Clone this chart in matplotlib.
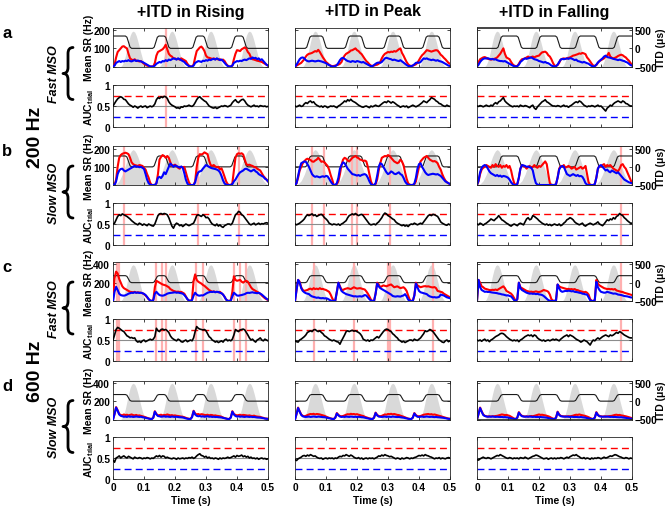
import numpy as np
import matplotlib
matplotlib.use("Agg")
import matplotlib.pyplot as plt
from matplotlib.path import Path
from matplotlib.patches import PathPatch

# ---------------------------------------------------------------- data
# time step of every trace is 5 ms, 101 samples from 0 to 0.5 s
columns = ["+ITD in Rising", "+ITD in Peak", "+ITD in Falling"]
row_letters = ["a", "b", "c", "d"]
row_types = ["Fast MSO", "Slow MSO", "Fast MSO", "Slow MSO"]
freq_labels = ["200 Hz", "600 Hz"]
sr_ticks_200 = [0, 100, 200]
sr_ticks_600 = [0, 200, 400]
time_ticks = [0, 0.1, 0.2, 0.3, 0.4, 0.5]
itd_ticks = [-500, 0, 500]
itd_amp = [340, 300, 190, 180]      # us, per row
env_peak = [195, 195, 395, 395]     # Hz, height of grey envelope, per row
auc_red_ref = 0.75
auc_blue_ref = 0.25

# one modulation cycle (0.125 s) of the grey envelope
env_t_narrow = [0.025, 0.03, 0.035, 0.04, 0.045, 0.05, 0.055, 0.06, 0.065, 0.07,
                0.075, 0.08, 0.085, 0.09, 0.095, 0.1, 0.105, 0.11]
env_v_narrow = [0, 0.05, 0.15, 0.3, 0.5, 0.7, 0.87, 0.97, 1.0, 0.97,
                0.87, 0.72, 0.55, 0.38, 0.22, 0.1, 0.03, 0]
env_t_broad = [0, 0.01, 0.02, 0.03, 0.04, 0.05, 0.055, 0.06, 0.065, 0.07, 0.075,
               0.08, 0.09, 0.1, 0.11, 0.12, 0.125]
env_v_broad = [0, 0.03, 0.12, 0.3, 0.55, 0.8, 0.9, 0.97, 1.0, 0.97, 0.9,
               0.8, 0.55, 0.3, 0.12, 0.03, 0]

# ITD ramp shape (20 ms) and ramp start times per column
ramp_dt = [0, 0.005, 0.01, 0.015, 0.02]
ramp_v = [0, 0.1, 0.5, 0.9, 1.0]
itd_rise_ups = [0.128, 0.253, 0.378]
itd_rise_downs = [0.04, 0.165, 0.29, 0.415]
itd_peak_ups = [0.033, 0.158, 0.283, 0.408]
itd_peak_downs = [0.085, 0.21, 0.335, 0.46]
itd_fall_ups = [0.063, 0.188, 0.313, 0.438]
itd_fall_downs = [0.128, 0.253, 0.378]

# ---- row a: 200 Hz, fast MSO
a_rise_red = [0, 10, 50, 80, 90, 100, 110, 112, 105, 100, 70, 45, 38, 35, 40, 32, 30, 28, 30, 22, 15, 10, 5, 2, 0,
              0, 0, 20, 60, 80, 85, 90, 95, 105, 120, 95, 70, 60, 55, 45, 45, 40, 42, 38, 45, 40, 35, 30, 15, 5,
              0, 0, 10, 50, 85, 95, 105, 110, 100, 85, 60, 50, 48, 45, 42, 45, 40, 42, 38, 40, 35, 38, 30, 15, 5,
              0, 0, 5, 40, 70, 90, 88, 85, 95, 100, 105, 98, 80, 70, 50, 40, 38, 35, 32, 30, 28, 25, 20, 15, 10, 5]
a_rise_blue = [0, 5, 20, 25, 30, 25, 30, 28, 32, 30, 35, 30, 28, 32, 35, 30, 33, 30, 28, 25, 20, 15, 10, 5, 0,
               0, 0, 5, 15, 20, 25, 22, 30, 28, 35, 30, 38, 35, 40, 45, 42, 38, 45, 40, 35, 30, 25, 15, 8, 2,
               0, 0, 5, 20, 25, 30, 28, 25, 32, 30, 35, 32, 38, 35, 40, 42, 38, 45, 40, 35, 38, 30, 20, 10, 3,
               0, 0, 5, 20, 25, 30, 28, 32, 30, 35, 38, 35, 40, 45, 42, 50, 45, 48, 40, 45, 35, 40, 30, 20, 10, 5]
a_rise_auc = [.50, .56, .62, .67, .70, .72, .70, .66, .65, .60, .55, .52, .50, .47, .50, .48, .45, .48, .50, .47, .49, .50, .46, .48, .50,
              .48, .50, .55, .65, .70, .68, .72, .70, .73, .72, .68, .60, .55, .52, .50, .48, .45, .46, .44, .48, .47, .50, .49, .50, .52,
              .50, .49, .52, .58, .65, .70, .72, .68, .65, .62, .60, .55, .50, .48, .46, .45, .47, .44, .46, .48, .50, .49, .51, .50, .48,
              .50, .52, .58, .62, .65, .60, .58, .62, .65, .66, .62, .56, .52, .50, .48, .50, .52, .49, .50, .48, .51, .50, .49, .50, .48, .49]
a_rise_sig = [0.17]

a_peak_red = [0, 5, 10, 15, 20, 30, 40, 55, 65, 70, 72, 75, 80, 85, 82, 92, 80, 65, 50, 38, 25, 18, 10, 5, 2,
              3, 5, 8, 10, 15, 25, 45, 60, 70, 75, 80, 88, 90, 95, 100, 90, 85, 75, 68, 55, 42, 30, 22, 12, 5,
              3, 5, 8, 10, 15, 25, 45, 60, 70, 75, 80, 78, 82, 80, 85, 82, 88, 95, 100, 75, 60, 42, 25, 12, 5,
              3, 5, 8, 12, 20, 35, 50, 62, 70, 80, 90, 88, 85, 82, 85, 88, 90, 88, 78, 65, 58, 48, 40, 30, 20, 15]
a_peak_blue = [0, 10, 25, 40, 48, 50, 45, 35, 30, 28, 30, 32, 30, 28, 30, 32, 30, 28, 25, 22, 18, 12, 8, 3, 0,
               0, 2, 8, 20, 35, 45, 48, 42, 35, 30, 28, 25, 30, 28, 25, 30, 28, 25, 22, 25, 20, 15, 10, 5, 2,
               2, 8, 15, 20, 22, 20, 25, 35, 45, 48, 45, 42, 40, 35, 38, 35, 32, 30, 35, 28, 22, 15, 8, 3, 2,
               2, 5, 12, 20, 22, 20, 25, 35, 45, 42, 45, 40, 38, 35, 38, 35, 32, 35, 30, 28, 25, 20, 15, 10, 5, 3]
a_peak_auc = [.50, .48, .50, .52, .49, .50, .55, .58, .56, .60, .62, .58, .60, .55, .52, .50, .48, .50, .47, .50, .49, .46, .48, .50, .49,
              .50, .48, .46, .50, .52, .55, .58, .62, .60, .65, .62, .66, .62, .60, .58, .55, .52, .50, .48, .47, .49, .50, .48, .46, .50,
              .48, .50, .52, .50, .49, .52, .55, .58, .60, .58, .62, .60, .57, .60, .58, .55, .52, .50, .47, .49, .50, .48, .50, .46, .48,
              .50, .52, .50, .48, .50, .52, .55, .58, .62, .60, .58, .62, .65, .70, .68, .66, .62, .60, .56, .55, .52, .50, .49, .52, .50, .49]
a_peak_sig = []

a_fall_red = [0, 25, 40, 45, 50, 52, 48, 42, 40, 38, 40, 42, 45, 50, 60, 70, 85, 100, 70, 50, 45, 40, 25, 12, 5,
              2, 3, 15, 30, 40, 42, 45, 50, 55, 48, 52, 55, 50, 55, 58, 60, 70, 78, 80, 82, 75, 62, 55, 40, 20,
              5, 3, 8, 20, 38, 42, 45, 42, 45, 48, 50, 55, 60, 62, 65, 68, 72, 70, 75, 72, 68, 50, 40, 28, 15,
              5, 3, 8, 20, 30, 35, 40, 45, 55, 60, 75, 55, 48, 45, 48, 52, 58, 62, 65, 62, 55, 50, 40, 32, 20, 8]
a_fall_blue = [0, 10, 25, 35, 42, 45, 44, 46, 42, 40, 42, 38, 40, 35, 32, 30, 30, 28, 30, 25, 20, 15, 10, 5, 2,
               0, 2, 10, 25, 32, 40, 45, 42, 45, 48, 50, 45, 40, 38, 35, 30, 28, 25, 22, 25, 20, 18, 12, 5, 2,
               0, 2, 10, 25, 38, 42, 40, 42, 45, 42, 46, 44, 40, 35, 38, 30, 28, 25, 22, 25, 22, 18, 15, 8, 3,
               0, 2, 10, 22, 30, 38, 45, 55, 60, 52, 50, 48, 45, 42, 40, 38, 35, 38, 35, 32, 30, 25, 22, 15, 8, 5]
a_fall_auc = [.50, .49, .51, .50, .48, .50, .52, .50, .49, .52, .50, .55, .58, .55, .60, .62, .66, .70, .62, .58, .55, .52, .50, .48, .50,
              .49, .50, .48, .52, .50, .49, .51, .50, .48, .46, .50, .52, .45, .42, .48, .52, .56, .60, .62, .65, .60, .58, .55, .52, .50,
              .50, .49, .51, .50, .48, .50, .52, .49, .50, .47, .50, .52, .55, .58, .60, .58, .62, .60, .56, .52, .50, .48, .50, .49, .51,
              .50, .48, .50, .52, .49, .50, .46, .42, .38, .45, .48, .52, .50, .55, .58, .60, .62, .60, .58, .62, .60, .56, .55, .52, .50, .50]
a_fall_sig = []

# ---- row b: 200 Hz, slow MSO
b_rise_red = [0, 0, 30, 100, 150, 165, 172, 175, 178, 175, 170, 150, 125, 115, 110, 108, 105, 110, 108, 105, 95, 85, 60, 40, 12,
              0, 0, 0, 10, 60, 140, 155, 165, 160, 150, 160, 150, 125, 105, 108, 112, 105, 95, 90, 100, 98, 100, 70, 40, 15,
              0, 0, 0, 20, 100, 150, 170, 168, 172, 180, 175, 170, 135, 110, 105, 110, 102, 98, 100, 85, 92, 70, 45, 20, 5,
              0, 0, 10, 80, 150, 170, 175, 172, 175, 168, 140, 115, 110, 112, 108, 105, 100, 98, 90, 85, 80, 65, 50, 40, 30, 20]
b_rise_blue = [0, 0, 20, 60, 80, 88, 90, 80, 75, 80, 85, 90, 95, 100, 105, 100, 102, 98, 100, 95, 88, 60, 30, 10, 2,
               0, 0, 0, 10, 40, 45, 38, 50, 70, 60, 80, 100, 118, 110, 100, 108, 104, 100, 96, 102, 95, 65, 30, 8, 0,
               0, 0, 0, 15, 50, 70, 75, 78, 90, 100, 110, 105, 100, 95, 92, 90, 88, 85, 80, 70, 50, 25, 8, 2, 0,
               0, 0, 5, 20, 30, 45, 60, 70, 75, 80, 88, 90, 85, 80, 75, 80, 85, 75, 70, 60, 55, 50, 45, 35, 30, 20]
b_rise_auc = [.50, .52, .60, .68, .72, .70, .74, .72, .70, .68, .65, .62, .58, .55, .52, .50, .48, .52, .50, .47, .50, .48, .46, .50, .48,
              .46, .45, .50, .60, .70, .74, .75, .73, .75, .74, .72, .65, .55, .45, .40, .48, .52, .50, .46, .48, .44, .47, .50, .48, .46,
              .48, .50, .52, .60, .70, .72, .70, .68, .72, .70, .65, .66, .62, .55, .50, .48, .46, .50, .45, .48, .44, .42, .46, .48, .50,
              .50, .48, .52, .62, .72, .75, .80, .78, .72, .70, .65, .60, .55, .50, .48, .50, .52, .48, .50, .52, .49, .51, .50, .52, .53, .52]
b_rise_sig = [0.035, 0.275, 0.405]

b_peak_red = [0, 10, 40, 80, 100, 120, 130, 140, 145, 142, 138, 130, 128, 135, 140, 150, 140, 128, 130, 125, 115, 105, 85, 55, 30,
              0, 0, 5, 20, 60, 110, 140, 150, 145, 135, 130, 140, 150, 155, 160, 152, 148, 140, 138, 132, 135, 130, 100, 60, 20,
              0, 0, 5, 30, 80, 120, 150, 155, 160, 158, 165, 160, 150, 140, 130, 125, 120, 125, 140, 130, 110, 70, 35, 10, 2,
              0, 0, 5, 20, 60, 100, 130, 140, 150, 155, 160, 150, 140, 135, 130, 132, 128, 120, 100, 85, 60, 40, 25, 15, 10, 5]
b_peak_blue = [0, 10, 50, 90, 120, 125, 130, 128, 115, 100, 80, 60, 50, 45, 48, 45, 42, 46, 48, 45, 50, 48, 35, 20, 8,
               0, 0, 10, 40, 90, 110, 125, 120, 105, 90, 80, 70, 60, 58, 55, 52, 55, 50, 55, 58, 60, 55, 40, 20, 5,
               0, 0, 10, 50, 100, 120, 115, 100, 85, 70, 60, 65, 75, 70, 62, 60, 65, 70, 60, 55, 40, 20, 8, 2, 0,
               0, 0, 8, 40, 90, 115, 120, 100, 85, 70, 60, 55, 58, 60, 62, 60, 58, 60, 55, 50, 40, 30, 20, 15, 10, 5]
b_peak_auc = [.50, .48, .50, .52, .55, .58, .62, .68, .72, .70, .72, .74, .70, .72, .68, .70, .72, .73, .70, .65, .62, .58, .52, .50, .48,
              .50, .49, .48, .50, .47, .50, .52, .55, .58, .65, .70, .72, .74, .72, .75, .72, .70, .72, .73, .70, .65, .60, .55, .50, .48,
              .49, .50, .48, .52, .55, .60, .65, .72, .76, .74, .70, .68, .65, .62, .60, .55, .52, .50, .48, .46, .48, .45, .47, .44, .48,
              .50, .49, .52, .50, .48, .50, .52, .50, .55, .60, .65, .70, .72, .70, .73, .72, .70, .68, .62, .55, .52, .50, .48, .47, .50, .48]
b_peak_sig = [0.055, 0.095, 0.185, 0.2, 0.305]

b_fall_red = [0, 20, 60, 85, 95, 100, 110, 105, 100, 95, 110, 100, 115, 105, 100, 110, 95, 105, 100, 110, 95, 105, 80, 40, 10,
              0, 5, 40, 90, 110, 105, 100, 90, 100, 105, 95, 100, 110, 100, 95, 105, 100, 110, 120, 130, 115, 60, 10, 0, 0,
              0, 5, 40, 90, 105, 100, 110, 95, 100, 105, 100, 90, 95, 100, 85, 90, 95, 100, 90, 95, 105, 60, 15, 0, 0,
              0, 5, 40, 90, 105, 100, 110, 115, 100, 110, 105, 110, 100, 90, 85, 80, 75, 90, 110, 115, 100, 90, 70, 50, 30, 10]
b_fall_blue = [0, 25, 70, 95, 105, 110, 105, 90, 75, 65, 60, 55, 50, 55, 48, 52, 45, 50, 48, 45, 40, 30, 15, 5, 0,
               0, 5, 40, 90, 110, 108, 105, 100, 102, 98, 95, 80, 40, 10, 2, 0, 0, 0, 0, 0, 0, 0, 0, 0, 0,
               0, 5, 40, 85, 100, 105, 100, 80, 60, 55, 50, 55, 60, 55, 50, 55, 48, 50, 45, 30, 10, 2, 0, 0, 0,
               0, 5, 40, 90, 105, 110, 100, 90, 80, 85, 75, 70, 80, 75, 70, 65, 70, 60, 50, 40, 30, 25, 20, 15, 12, 10]
b_fall_auc = [.50, .48, .52, .50, .47, .50, .52, .55, .58, .62, .60, .58, .62, .65, .70, .65, .60, .58, .55, .52, .50, .47, .45, .48, .50,
              .48, .46, .50, .52, .50, .48, .55, .62, .65, .60, .62, .70, .68, .65, .62, .58, .55, .52, .50, .48, .50, .47, .49, .46, .48,
              .50, .48, .47, .50, .46, .48, .52, .55, .60, .62, .65, .63, .60, .55, .52, .50, .48, .50, .52, .47, .45, .48, .50, .52, .50,
              .48, .50, .52, .55, .50, .48, .46, .50, .55, .60, .58, .62, .60, .65, .62, .68, .70, .75, .72, .70, .65, .62, .58, .55, .52, .52]
b_fall_sig = [0.465]

# ---- row c: 600 Hz, fast MSO
c_rise_red = [0, 250, 320, 300, 240, 200, 160, 140, 130, 120, 110, 100, 98, 95, 100, 90, 95, 92, 90, 85, 75, 60, 40, 20, 5,
              0, 10, 150, 220, 210, 200, 190, 180, 175, 170, 160, 150, 130, 120, 110, 105, 100, 102, 98, 100, 90, 80, 50, 20, 5,
              0, 20, 220, 290, 230, 210, 200, 190, 175, 165, 150, 135, 120, 110, 100, 105, 98, 100, 95, 100, 85, 70, 45, 15, 3,
              0, 10, 100, 270, 230, 220, 225, 230, 210, 200, 215, 220, 210, 180, 150, 130, 120, 110, 100, 90, 80, 60, 45, 30, 20, 10]
c_rise_blue = [0, 100, 155, 120, 80, 65, 60, 58, 62, 70, 80, 85, 90, 88, 95, 90, 92, 88, 90, 85, 78, 65, 45, 20, 5,
               0, 10, 80, 100, 80, 65, 60, 58, 62, 70, 80, 85, 88, 90, 92, 95, 90, 92, 88, 85, 80, 65, 45, 20, 5,
               0, 10, 60, 90, 70, 60, 58, 62, 60, 70, 80, 90, 95, 100, 98, 102, 95, 100, 98, 90, 85, 70, 45, 15, 3,
               0, 5, 50, 90, 75, 60, 58, 62, 65, 70, 75, 85, 90, 88, 92, 95, 90, 88, 85, 90, 80, 70, 55, 40, 25, 15]
c_rise_auc = [.50, .62, .75, .80, .78, .75, .72, .70, .65, .60, .58, .55, .56, .54, .55, .48, .45, .47, .44, .48, .50, .46, .48, .50, .52,
              .50, .52, .58, .78, .72, .70, .75, .76, .74, .75, .72, .68, .60, .55, .52, .50, .48, .52, .50, .46, .45, .48, .50, .46, .48,
              .50, .48, .55, .70, .82, .78, .76, .75, .74, .75, .72, .65, .58, .55, .50, .48, .45, .47, .44, .46, .48, .45, .50, .52, .48,
              .50, .48, .52, .62, .75, .72, .70, .74, .75, .76, .74, .68, .62, .55, .50, .52, .48, .45, .50, .52, .55, .50, .48, .52, .50, .48]
c_rise_sig = [0.012, 0.02, 0.138, 0.158, 0.172, 0.268, 0.29, 0.39, 0.41, 0.428]

c_peak_red = [0, 120, 230, 210, 150, 120, 110, 115, 120, 130, 135, 125, 140, 130, 135, 128, 140, 130, 132, 125, 120, 110, 100, 70, 30,
              0, 5, 100, 200, 160, 125, 120, 130, 135, 140, 135, 130, 140, 150, 142, 135, 138, 140, 135, 130, 125, 105, 80, 50, 15,
              0, 0, 80, 200, 180, 150, 160, 170, 165, 160, 168, 175, 180, 165, 150, 155, 160, 150, 140, 145, 150, 135, 110, 60, 15,
              0, 0, 60, 200, 170, 160, 150, 155, 160, 162, 158, 160, 155, 150, 148, 152, 140, 110, 105, 100, 95, 80, 70, 60, 50, 40]
c_peak_blue = [0, 120, 230, 200, 140, 110, 95, 85, 80, 75, 60, 50, 45, 40, 35, 38, 32, 30, 32, 28, 30, 25, 15, 5, 2,
               0, 5, 100, 200, 150, 110, 95, 85, 75, 70, 65, 60, 55, 50, 52, 48, 50, 52, 48, 55, 65, 60, 40, 20, 5,
               0, 0, 80, 190, 160, 140, 130, 120, 110, 100, 90, 80, 70, 55, 50, 48, 52, 50, 48, 55, 60, 75, 50, 15, 3,
               0, 0, 60, 190, 150, 110, 95, 90, 85, 80, 75, 60, 50, 45, 40, 42, 38, 40, 45, 70, 65, 60, 50, 40, 35, 30]
c_peak_auc = [.48, .46, .45, .50, .52, .55, .58, .62, .68, .70, .72, .70, .74, .75, .72, .70, .72, .68, .65, .60, .58, .55, .52, .50, .48,
              .50, .48, .46, .45, .40, .48, .55, .62, .70, .72, .70, .72, .73, .71, .72, .70, .68, .65, .60, .52, .50, .48, .50, .47, .50,
              .49, .52, .55, .58, .55, .60, .65, .70, .74, .76, .75, .72, .70, .65, .62, .58, .55, .50, .48, .45, .47, .44, .46, .48, .50,
              .50, .48, .52, .50, .49, .52, .55, .60, .65, .72, .70, .72, .75, .73, .70, .65, .60, .55, .50, .48, .45, .44, .48, .50, .46, .48]
c_peak_sig = [0.062, 0.19, 0.301, 0.308, 0.444]

c_fall_red = [0, 230, 200, 160, 150, 135, 130, 125, 120, 118, 122, 120, 125, 118, 130, 140, 150, 160, 140, 110, 100, 90, 80, 60, 30,
              0, 20, 200, 150, 140, 130, 120, 110, 105, 100, 102, 98, 100, 105, 100, 98, 102, 110, 120, 115, 110, 100, 70, 20, 5,
              0, 10, 180, 160, 150, 145, 140, 135, 130, 132, 128, 130, 125, 130, 120, 118, 110, 105, 100, 95, 100, 90, 70, 20, 3,
              0, 10, 230, 190, 170, 160, 150, 140, 135, 130, 132, 128, 130, 125, 130, 115, 110, 105, 100, 98, 90, 85, 80, 75, 70, 65]
c_fall_blue = [0, 230, 150, 120, 110, 100, 102, 98, 100, 95, 92, 90, 88, 85, 80, 78, 72, 70, 65, 60, 62, 55, 50, 30, 8,
               0, 20, 200, 140, 120, 110, 100, 90, 85, 80, 82, 78, 80, 75, 78, 72, 70, 65, 55, 40, 25, 10, 3, 0, 0,
               0, 10, 180, 140, 110, 100, 105, 110, 108, 112, 110, 105, 108, 100, 98, 95, 90, 88, 80, 78, 72, 70, 40, 8, 0,
               0, 10, 210, 150, 120, 100, 95, 90, 92, 100, 95, 90, 85, 80, 82, 78, 70, 68, 65, 60, 55, 52, 50, 45, 40, 38]
c_fall_auc = [.50, .48, .50, .47, .50, .52, .48, .50, .46, .50, .52, .55, .58, .60, .62, .65, .66, .65, .62, .58, .55, .52, .50, .48, .50,
              .48, .50, .46, .50, .52, .55, .58, .60, .62, .60, .62, .58, .62, .60, .55, .52, .50, .48, .50, .47, .49, .50, .48, .50, .52,
              .50, .52, .50, .48, .52, .55, .58, .60, .62, .58, .62, .60, .58, .55, .52, .50, .48, .45, .47, .50, .48, .46, .42, .38, .45,
              .50, .48, .52, .55, .52, .55, .58, .60, .62, .60, .58, .62, .60, .62, .65, .68, .66, .70, .68, .65, .62, .60, .58, .56, .55, .55]
c_fall_sig = [0.466]

# ---- row d: 600 Hz, slow MSO
d_rise_red = [0, 60, 135, 100, 60, 50, 45, 55, 48, 52, 45, 50, 55, 48, 45, 50, 42, 45, 40, 35, 30, 25, 18, 12, 8,
              5, 20, 90, 60, 45, 48, 52, 45, 50, 48, 55, 50, 45, 48, 42, 45, 40, 38, 35, 32, 30, 25, 18, 12, 8,
              5, 30, 95, 65, 55, 60, 52, 58, 55, 50, 48, 52, 45, 50, 48, 42, 45, 40, 38, 35, 30, 22, 15, 10, 6,
              5, 25, 90, 60, 50, 45, 48, 52, 45, 50, 48, 45, 42, 45, 40, 38, 42, 35, 32, 30, 28, 22, 18, 12, 10, 8]
d_rise_blue = [0, 60, 130, 95, 55, 40, 35, 30, 32, 28, 35, 30, 32, 28, 30, 33, 30, 28, 30, 25, 22, 18, 14, 10, 6,
               5, 20, 85, 55, 38, 35, 30, 32, 35, 30, 33, 30, 28, 32, 30, 28, 30, 27, 25, 24, 22, 18, 12, 8, 6,
               5, 25, 90, 55, 40, 35, 38, 32, 35, 30, 33, 36, 30, 32, 28, 30, 27, 28, 25, 24, 22, 18, 14, 10, 6,
               5, 20, 85, 55, 38, 32, 35, 30, 33, 30, 28, 32, 30, 28, 30, 27, 28, 25, 22, 21, 20, 18, 14, 10, 8, 6]
d_rise_auc = [.45, .40, .50, .52, .55, .50, .53, .55, .52, .50, .54, .52, .50, .48, .52, .50, .49, .51, .50, .48, .50, .49, .51, .50, .48,
              .50, .49, .52, .55, .53, .56, .52, .55, .54, .50, .52, .50, .49, .48, .50, .49, .47, .50, .48, .49, .50, .48, .50, .49, .51,
              .50, .52, .49, .51, .55, .58, .60, .56, .55, .52, .54, .50, .52, .49, .50, .48, .50, .49, .47, .50, .48, .50, .49, .50, .52,
              .50, .51, .53, .55, .52, .56, .54, .55, .57, .53, .55, .52, .54, .50, .52, .49, .50, .48, .50, .47, .49, .50, .48, .49, .47, .48]
d_rise_sig = []

d_peak_red = [0, 60, 130, 90, 55, 40, 35, 40, 48, 55, 60, 58, 62, 55, 60, 58, 55, 50, 45, 40, 32, 25, 18, 12, 8,
              5, 20, 70, 50, 38, 35, 38, 45, 52, 58, 55, 62, 58, 60, 55, 58, 52, 48, 42, 38, 30, 24, 18, 12, 8,
              5, 20, 75, 50, 38, 35, 40, 48, 55, 52, 60, 58, 62, 56, 60, 55, 50, 48, 42, 36, 30, 24, 16, 10, 6,
              5, 20, 70, 48, 36, 35, 38, 45, 52, 55, 58, 60, 55, 58, 52, 55, 50, 45, 40, 36, 30, 25, 20, 15, 10, 8]
d_peak_blue = [0, 60, 125, 85, 50, 35, 30, 28, 30, 32, 28, 30, 33, 30, 28, 32, 30, 28, 26, 25, 22, 18, 14, 10, 6,
               5, 20, 65, 45, 32, 28, 30, 28, 32, 30, 28, 32, 30, 28, 30, 27, 29, 28, 25, 24, 20, 16, 12, 8, 6,
               5, 20, 70, 45, 32, 30, 28, 30, 32, 28, 31, 30, 28, 32, 30, 28, 27, 28, 25, 22, 20, 16, 12, 8, 6,
               5, 20, 65, 42, 30, 28, 30, 32, 28, 30, 33, 30, 28, 30, 28, 26, 28, 25, 24, 22, 20, 18, 14, 10, 8, 6]
d_peak_auc = [.46, .44, .48, .50, .52, .55, .56, .54, .57, .55, .58, .56, .54, .55, .52, .50, .49, .50, .47, .49, .50, .48, .50, .49, .50,
              .48, .50, .49, .52, .54, .53, .56, .55, .58, .56, .54, .57, .55, .52, .50, .49, .51, .48, .50, .47, .49, .50, .48, .50, .49,
              .50, .48, .50, .52, .55, .54, .57, .55, .58, .56, .55, .53, .54, .52, .50, .48, .50, .49, .47, .50, .48, .49, .51, .50, .48,
              .50, .49, .51, .52, .54, .56, .55, .57, .55, .58, .56, .55, .53, .52, .50, .48, .50, .49, .51, .48, .50, .49, .48, .50, .51, .50]
d_peak_sig = []

d_fall_red = [0, 60, 130, 90, 55, 40, 35, 32, 35, 33, 36, 35, 38, 40, 45, 50, 55, 52, 48, 50, 45, 40, 30, 20, 10,
              5, 20, 80, 55, 40, 35, 33, 35, 32, 35, 38, 36, 40, 45, 50, 55, 50, 52, 48, 45, 40, 35, 28, 18, 10,
              5, 20, 85, 55, 40, 36, 34, 35, 33, 36, 35, 38, 42, 48, 52, 50, 55, 50, 46, 42, 38, 32, 25, 16, 8,
              5, 20, 80, 52, 38, 35, 32, 34, 35, 33, 36, 38, 40, 45, 50, 52, 48, 50, 45, 42, 38, 35, 30, 25, 20, 15]
d_fall_blue = [0, 60, 125, 85, 50, 38, 33, 30, 32, 30, 33, 30, 28, 30, 28, 27, 28, 25, 26, 24, 22, 18, 14, 10, 6,
               5, 20, 75, 50, 36, 32, 30, 32, 30, 33, 30, 28, 30, 27, 28, 26, 27, 25, 24, 22, 20, 16, 12, 8, 6,
               5, 20, 80, 50, 36, 33, 31, 30, 32, 30, 28, 30, 28, 27, 28, 26, 25, 27, 24, 22, 20, 16, 12, 8, 6,
               5, 20, 75, 48, 35, 32, 30, 31, 30, 32, 30, 28, 29, 27, 28, 26, 25, 24, 25, 22, 20, 18, 15, 12, 10, 8]
d_fall_auc = [.46, .45, .48, .50, .52, .50, .49, .51, .50, .48, .50, .52, .54, .56, .55, .58, .56, .54, .52, .50, .49, .51, .50, .48, .50,
              .49, .50, .48, .51, .50, .49, .52, .50, .48, .50, .52, .54, .55, .57, .56, .54, .52, .50, .48, .49, .50, .47, .49, .50, .48,
              .50, .48, .50, .49, .51, .50, .48, .50, .52, .50, .53, .55, .57, .56, .58, .55, .53, .50, .49, .51, .48, .50, .49, .47, .50,
              .48, .50, .49, .51, .50, .48, .50, .52, .50, .51, .53, .55, .54, .56, .58, .57, .55, .53, .52, .50, .49, .51, .50, .48, .50, .49]
d_fall_sig = []

# ---------------------------------------------------------------- style
plt.rcParams['font.family'] = ['Liberation Sans', 'DejaVu Sans']
plt.rcParams['font.weight'] = 'bold'
plt.rcParams['mathtext.fontset'] = 'custom'
plt.rcParams['mathtext.rm'] = 'Liberation Sans:bold'
plt.rcParams['mathtext.bf'] = 'Liberation Sans:bold'
plt.rcParams['mathtext.it'] = 'Liberation Sans:bold:italic'

W, H = 668, 510
SPINE = '#262626'
GREY_ENV = '#d9d9d9'
PINK = '#ffb0b0'
TICK_FS = 7.3
LABEL_FS = 7.5

col_x = [113, 295, 477]
col_w = 155
sr_top = [28.5, 147, 263, 381.5]
sr_h = 39
auc_top = [86, 204, 320, 438]
auc_h = 42


def px_rect(x, top, w, h):
    return [x / W, 1 - (top + h) / H, w / W, h / H]


def fx(x):
    return x / W


def fy(y):
    return 1 - y / H


def tile_cycle(t_cycle, v_cycle):
    tt, vv = [], []
    for k in range(4):
        tt += [t + 0.125 * k for t in t_cycle]
        vv += list(v_cycle)
    return np.array(tt), np.array(vv)


def itd_path(ups, downs, start_high):
    events = [(t, 'up') for t in ups] + [(t, 'down') for t in downs]
    events.sort()
    level = 1.0 if start_high else 0.0
    tt, vv = [0.0], [level]
    for t0, kind in events:
        for dt, r in zip(ramp_dt, ramp_v):
            tt.append(t0 + dt)
            vv.append(r if kind == 'up' else 1 - r)
        level = 1.0 if kind == 'up' else 0.0
    tt.append(0.5)
    vv.append(level)
    return np.array(tt), np.array(vv)


def draw_brace(fig, cx, cy, half_h=26, half_w=5):
    # curly brace opening to the right, drawn in pixel coordinates
    pts = [(cx + half_w, cy - half_h), (cx, cy - half_h), (cx, cy - half_h + 6),
           (cx, cy - 6),
           (cx, cy), (cx - half_w, cy),
           (cx, cy), (cx, cy + 6),
           (cx, cy + half_h - 6),
           (cx, cy + half_h), (cx + half_w, cy + half_h)]
    codes = [Path.MOVETO, Path.CURVE3, Path.CURVE3, Path.LINETO,
             Path.CURVE3, Path.CURVE3, Path.CURVE3, Path.CURVE3,
             Path.LINETO, Path.CURVE3, Path.CURVE3]
    verts = [(fx(x), fy(y)) for x, y in pts]
    patch = PathPatch(Path(verts, codes), fill=False, lw=2.0, color='black',
                      transform=fig.transFigure, capstyle='round', joinstyle='round')
    fig.add_artist(patch)


def style_axes(ax, show_x, show_y, right_ticks=True):
    for s in ax.spines.values():
        s.set_linewidth(0.6)
        s.set_color(SPINE)
    ax.tick_params(direction='in', length=2.5, width=0.6, colors=SPINE,
                   top=True, right=right_ticks, labelsize=TICK_FS,
                   labelbottom=show_x, labelleft=show_y, pad=2)
    ax.set_xlim(0, 0.5)
    ax.set_xticks(time_ticks)
    if show_x:
        ax.set_xticklabels(['0', '0.1', '0.2', '0.3', '0.4', '0.5'])
    for lab in ax.get_xticklabels() + ax.get_yticklabels():
        lab.set_fontweight('bold')
        lab.set_color('black')


panels = [
    [(a_rise_red, a_rise_blue, a_rise_auc, a_rise_sig),
     (a_peak_red, a_peak_blue, a_peak_auc, a_peak_sig),
     (a_fall_red, a_fall_blue, a_fall_auc, a_fall_sig)],
    [(b_rise_red, b_rise_blue, b_rise_auc, b_rise_sig),
     (b_peak_red, b_peak_blue, b_peak_auc, b_peak_sig),
     (b_fall_red, b_fall_blue, b_fall_auc, b_fall_sig)],
    [(c_rise_red, c_rise_blue, c_rise_auc, c_rise_sig),
     (c_peak_red, c_peak_blue, c_peak_auc, c_peak_sig),
     (c_fall_red, c_fall_blue, c_fall_auc, c_fall_sig)],
    [(d_rise_red, d_rise_blue, d_rise_auc, d_rise_sig),
     (d_peak_red, d_peak_blue, d_peak_auc, d_peak_sig),
     (d_fall_red, d_fall_blue, d_fall_auc, d_fall_sig)],
]
itd_specs = [(itd_rise_ups, itd_rise_downs, True),
             (itd_peak_ups, itd_peak_downs, False),
             (itd_fall_ups, itd_fall_downs, False)]

fig = plt.figure(figsize=(W / 100, H / 100), dpi=100)

for r in range(4):
    if r < 2:
        sr_max, sr_ticks = 215, sr_ticks_200
        itd0, itd_scale = 100, 5.0     # Hz at ITD 0, us per Hz
    else:
        sr_max, sr_ticks = 425, sr_ticks_600
        itd0, itd_scale = 200, 2.5
    if r == 1:
        env_t, env_v = tile_cycle(env_t_broad, env_v_broad)
    else:
        env_t, env_v = tile_cycle(env_t_narrow, env_v_narrow)

    for c in range(3):
        red, blue, auc, sig = panels[r][c]
        t = np.arange(len(red)) * 0.005

        # ---- mean spike rate axes
        ax = fig.add_axes(px_rect(col_x[c], sr_top[r], col_w, sr_h))
        ax.fill_between(env_t, 0, env_v * env_peak[r], color=GREY_ENV, lw=0, zorder=1)
        for ts in sig:
            ax.axvline(ts, color=PINK, lw=1.6, zorder=1.5)
        it, iv = itd_path(*itd_specs[c])
        ax.plot(it, itd0 + iv * itd_amp[r] / itd_scale, color='#1a1a1a', lw=0.8, zorder=2)
        ax.plot(t, red, color='#ff0000', lw=1.5, zorder=3)
        ax.plot(t, blue, color='#0000ff', lw=1.5, zorder=4)
        ax.set_ylim(0, sr_max)
        ax.set_yticks(sr_ticks)
        style_axes(ax, False, c == 0, right_ticks=(c != 2))

        if c == 2:
            ax2 = ax.twinx()
            ax2.set_ylim(-itd0 * itd_scale, (sr_max - itd0) * itd_scale)
            ax2.set_yticks(itd_ticks)
            ax2.tick_params(direction='in', length=2.5, width=0.6, colors=SPINE,
                            labelsize=TICK_FS, pad=2)
            for lab in ax2.get_yticklabels():
                lab.set_fontweight('bold')
                lab.set_color('black')
            for s in ax2.spines.values():
                s.set_linewidth(0.6)
                s.set_color(SPINE)
            fig.text(fx(661), fy(sr_top[r] + sr_h / 2), 'ITD (μs)', rotation=90,
                     ha='center', va='center', fontsize=LABEL_FS, fontweight='bold')

        # ---- AUC axes
        bx = fig.add_axes(px_rect(col_x[c], auc_top[r], col_w, auc_h))
        for ts in sig:
            bx.axvline(ts, color=PINK, lw=1.6, zorder=1)
        bx.axhline(0.5, color='#8c8c8c', lw=0.8, zorder=1.5)
        bx.axhline(auc_red_ref, color='#ff0000', lw=1.0, ls=(0, (5, 3)), zorder=2)
        bx.axhline(auc_blue_ref, color='#0000ff', lw=1.0, ls=(0, (5, 3)), zorder=2)
        bx.plot(t, auc, color='black', lw=1.2, zorder=3)
        bx.set_ylim(0, 1)
        bx.set_yticks([0, 0.5, 1])
        bx.set_yticklabels(['0', '0.5', '1'])
        style_axes(bx, r == 3, c == 0)
        if r == 3:
            bx.set_xlabel('Time (s)', fontsize=LABEL_FS, fontweight='bold', labelpad=2)

    # ---- row annotations
    fig.text(fx(89), fy(sr_top[r] + sr_h / 2), 'Mean SR (Hz)', rotation=90,
             ha='center', va='center', fontsize=LABEL_FS, fontweight='bold')
    fig.text(fx(89), fy(auc_top[r] + auc_h / 2), r'AUC$_{\mathrm{trial}}$', rotation=90,
             ha='center', va='center', fontsize=LABEL_FS, fontweight='bold')
    fig.text(fx(7), fy(sr_top[r] + 5), row_letters[r], ha='center', va='center',
             fontsize=12, fontweight='bold')
    brace_y = sr_top[r] + 46
    draw_brace(fig, 68, brace_y)
    fig.text(fx(54), fy(brace_y), row_types[r], rotation=90, ha='center', va='center',
             fontsize=9, fontweight='bold', fontstyle='italic')

for k, lab in enumerate(freq_labels):
    yc = (sr_top[2 * k] + auc_top[2 * k + 1] + auc_h) / 2
    fig.text(fx(35), fy(yc), lab, rotation=90, ha='center', va='center',
             fontsize=14, fontweight='bold')

for c, title in enumerate(columns):
    fig.text(fx(col_x[c] + col_w / 2), fy(12), title, ha='center', va='center',
             fontsize=11.5, fontweight='bold')

fig.savefig('out.png', dpi=100)
